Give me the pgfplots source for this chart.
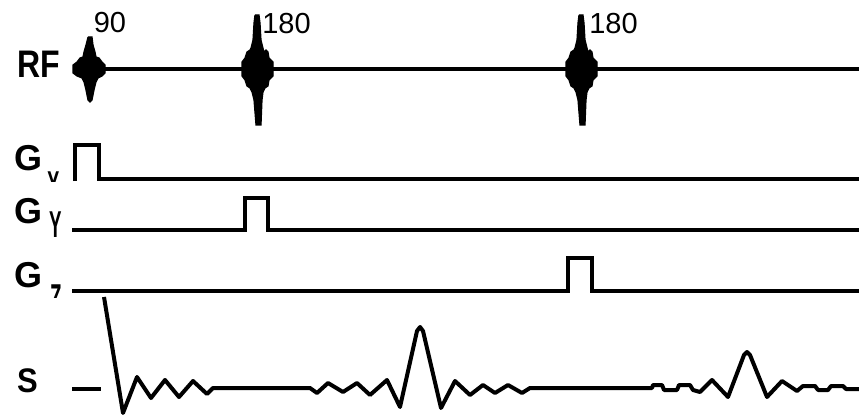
\documentclass[border=0pt]{standalone}
\usepackage{graphicx}
\usepackage{fontspec}
\setmainfont{Liberation Sans}
\usepackage{pgfplots}
\pgfplotsset{compat=1.18}
\begin{document}
\begin{tikzpicture}
\useasboundingbox (0,0) rectangle (859pt,417pt);
\begin{axis}[at={(0,0)}, anchor=south west, scale only axis,
  width=859pt, height=417pt, xmin=0, xmax=859, ymin=0, ymax=417,
  y dir=reverse, hide axis, clip=false]
% RF baseline
\addplot[black, line width=4pt] coordinates {(100,69.5) (859,69.5)};
% 90 pulse
\addplot[black, fill=black, line width=1.2pt] coordinates {
(88,37) (92,37) (93,45) (95,52) (96,57) (99,58) (102,62) (105,65) (105,73) (102,76) (98,78) (96,82) (94,90) (92,100) (90,102) (88,100) (86,90) (84,82) (82,78) (77,76) (73,73) (73,65) (77,62) (80,58) (83,57) (84,52) (86,45) (88,37)};
% 180 pulses
\addplot[black, fill=black, line width=1.2pt] coordinates {
(255,15) (259,15) (260,23) (261,40) (263,48) (264,52) (266,50) (268,52) (269,58) (273,62) (273,76) (269,80) (268,86) (265,88) (263,92) (262,100) (261,125) (256,125) (254,100) (252,92) (250,88) (247,86) (245,80) (242,76) (242,62) (245,58) (247,52) (250,50) (251,48) (253,40) (254,23) (255,15)};
\addplot[black, fill=black, line width=1.2pt] coordinates {
(579,15) (583,15) (584,23) (585,40) (587,48) (588,52) (590,50) (592,52) (593,58) (597,62) (597,76) (593,80) (592,86) (589,88) (587,92) (586,100) (585,125) (580,125) (578,100) (576,92) (574,88) (571,86) (569,80) (566,76) (566,62) (569,58) (571,52) (574,50) (575,48) (577,40) (578,23) (579,15)};
% Gradients
\addplot[black, line width=4pt, line join=miter] coordinates {(75,181) (75,145) (99,145) (99,179) (859,179)};
\addplot[black, line width=4pt, line join=miter] coordinates {(72,229.5) (244.5,229.5) (244.5,197.5) (267.5,197.5) (267.5,229.5) (859,229.5)};
\addplot[black, line width=4pt, line join=miter] coordinates {(72,291) (567.5,291) (567.5,257.5) (591.5,257.5) (591.5,291) (859,291)};
% Signal
\addplot[black, line width=4pt] coordinates {(72,389) (101,389)};
\addplot[black, line width=4pt, line join=round] coordinates {
(104,297) (123,413) (137,377) (151,398) (165,380) (179,397) (193,381) (207,394) (213,388) (310,388)
(317,393) (328,383) (343,392) (357,383) (370,395) (387,380) (400,407) (417,331) (420,327) (423,331) (441,408)
(455,381) (470,395) (483,385) (495,393) (508,385) (522,393) (530,388) (652,388)
(653,385) (662,385) (664,390) (677,390) (679,385) (690,385) (693,390) (700,392) (712,380) (728,397)
(744,355) (747,352) (750,355) (767,397) (782,381) (797,391) (803,386) (815,386) (818,390) (828,390) (831,386) (843,386) (846,389) (859,389)};
\end{axis}
\begin{scope}[x=1pt, y=-1pt, yshift=417pt]
\node[inner sep=0pt] at (110,22.5) {\fontsize{29}{34}\selectfont 90};
\node[inner sep=0pt] at (286.5,23.5) {\fontsize{29}{34}\selectfont 180};
\node[inner sep=0pt] at (613.5,23.5) {\fontsize{29}{34}\selectfont 180};
\node[inner sep=0pt] at (38.5,64) {\scalebox{1}[1.2]{\fontsize{32}{36}\selectfont\bfseries RF}};
\node[inner sep=0pt] at (27.5,380.5) {\scalebox{1}[1.1]{\fontsize{31}{36}\selectfont\bfseries S}};
\node[inner sep=0pt] at (29,158.5) {\fontsize{36}{40}\selectfont\bfseries G};
\node[inner sep=0pt] at (29,211) {\fontsize{36}{40}\selectfont\bfseries G};
\node[inner sep=0pt] at (29,275) {\fontsize{36}{40}\selectfont\bfseries G};
\node[inner sep=0pt, anchor=north] at (56,212) {\scalebox{0.85}[1.7]{\fontsize{22}{26}\selectfont\bfseries Y}};
\begin{scope}
\clip (40,160) rectangle (70,182);
\node[inner sep=0pt, anchor=north] at (54,172) {\scalebox{0.85}[1.7]{\fontsize{22}{26}\selectfont\bfseries X}};
\end{scope}
\begin{scope}
\clip (40,275) rectangle (70,298);
\node[inner sep=0pt, anchor=north] at (56,285) {\scalebox{0.85}[1.7]{\fontsize{22}{26}\selectfont\bfseries Z}};
\end{scope}
\end{scope}
\end{tikzpicture}
\end{document}
